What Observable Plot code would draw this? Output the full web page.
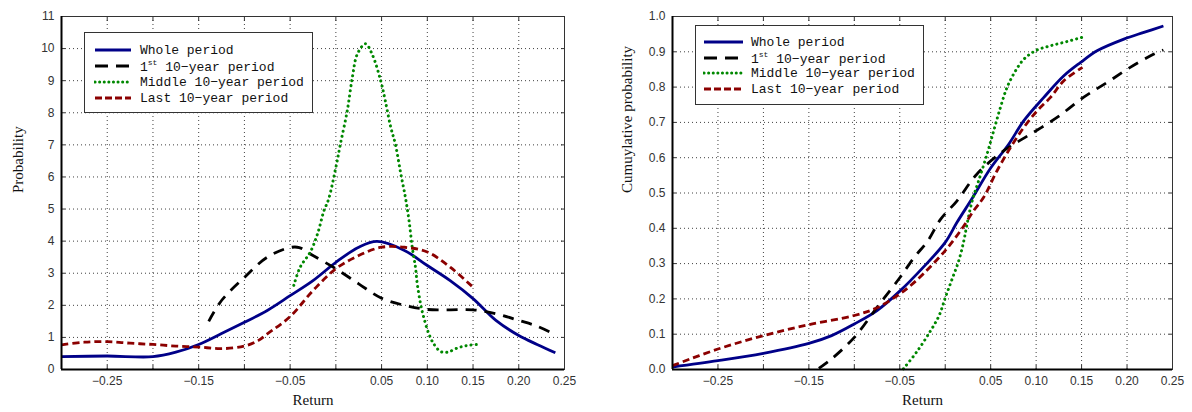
<!DOCTYPE html>
<html><head><meta charset="utf-8">
<script src="https://cdn.jsdelivr.net/npm/d3@7"></script>
<script src="https://cdn.jsdelivr.net/npm/@observablehq/plot@0.6"></script>
<style>
body{margin:0;background:#fff;}
#wrap{position:relative;width:1192px;height:412px;overflow:hidden;background:#fff;}
.panel{position:absolute;top:0;}
.legend{position:absolute;border:1px solid #333;background:#fff;font-family:"Liberation Mono",monospace;font-size:13px;color:#111;box-sizing:border-box;}
.row{position:absolute;height:16px;display:flex;align-items:center;white-space:nowrap;}
.row svg{flex:none;}
.row span{position:absolute;}
sup{font-size:8px;vertical-align:6px;}
</style></head><body><div id="wrap"></div>
<script>
// ---------- data ----------
const xDomain = [-0.30, 0.25];
const xTicks = [-0.30,-0.25,-0.20,-0.15,-0.10,-0.05,0,0.05,0.10,0.15,0.20,0.25];
const xTickLabels = [-0.25,-0.15,-0.05,0.05,0.10,0.15,0.20,0.25];
const pdfYTicks = [0,1,2,3,4,5,6,7,8,9,10,11];
const cdfYTicks = [0,0.1,0.2,0.3,0.4,0.5,0.6,0.7,0.8,0.9,1.0];
const seriesNames = ["Whole period", "1st 10-year period", "Middle 10-year period", "Last 10-year period"];

// Probability density
const pdfWholeX = [-0.30,-0.25,-0.20,-0.175,-0.15,-0.125,-0.10,-0.075,-0.05,-0.025,0,0.025,0.045,0.075,0.10,0.125,0.15,0.175,0.20,0.22,0.24];
const pdfWholeY = [0.40,0.42,0.40,0.54,0.78,1.12,1.47,1.84,2.30,2.77,3.34,3.81,3.99,3.71,3.24,2.77,2.21,1.53,1.06,0.78,0.52];
const pdfFirstX = [-0.139,-0.125,-0.10,-0.075,-0.05,-0.04,-0.025,0,0.025,0.05,0.075,0.10,0.125,0.15,0.175,0.20,0.22,0.24];
const pdfFirstY = [1.50,2.15,2.87,3.50,3.80,3.80,3.55,3.14,2.67,2.22,2.00,1.87,1.86,1.86,1.74,1.53,1.35,1.09];
const pdfMiddleX = [-0.046,-0.039,-0.028,-0.020,-0.013,-0.008,0,0.005,0.0125,0.018,0.0235,0.0324,0.040,0.049,0.054,0.060,0.065,0.071,0.076,0.080,0.0835,0.087,0.089,0.0926,0.096,0.1017,0.107,0.1145,0.122,0.133,0.144,0.155];
const pdfMiddleY = [2.62,3.19,3.66,4.23,4.95,5.30,6.30,7.03,8.07,9.10,9.83,10.15,9.80,9.00,8.38,7.55,7.03,6.10,5.37,4.64,3.81,3.19,2.67,2.05,1.63,1.11,0.80,0.56,0.54,0.67,0.75,0.78];
const pdfLastX = [-0.30,-0.275,-0.25,-0.225,-0.20,-0.175,-0.15,-0.125,-0.10,-0.085,-0.075,-0.05,-0.025,0,0.025,0.05,0.075,0.10,0.125,0.152];
const pdfLastY = [0.77,0.85,0.87,0.82,0.78,0.73,0.70,0.65,0.73,0.90,1.11,1.65,2.46,3.14,3.55,3.81,3.81,3.66,3.19,2.51];

// Cumulative probability
const cdfWholeX = [-0.30,-0.25,-0.20,-0.15,-0.125,-0.10,-0.075,-0.05,-0.024,0,0.013,0.0297,0.0498,0.07,0.0865,0.1085,0.1305,0.149,0.167,0.1965,0.2185,0.24];
const cdfWholeY = [0.007,0.025,0.046,0.074,0.096,0.129,0.167,0.222,0.290,0.360,0.417,0.485,0.570,0.639,0.705,0.771,0.832,0.870,0.903,0.936,0.955,0.973];
const cdfFirstX = [-0.139,-0.125,-0.10,-0.075,-0.05,-0.034,-0.019,-0.005,0.013,0.035,0.0645,0.094,0.123,0.152,0.178,0.2035,0.229,0.24];
const cdfFirstY = [0.003,0.030,0.091,0.176,0.260,0.318,0.365,0.426,0.478,0.554,0.620,0.667,0.714,0.771,0.813,0.856,0.893,0.905];
const cdfMiddleX = [-0.046,-0.0316,-0.017,-0.0067,0.0003,0.0077,0.015,0.0205,0.024,0.0297,0.0368,0.046,0.0533,0.0607,0.068,0.0773,0.0865,0.0993,0.1158,0.134,0.152];
const cdfMiddleY = [0.002,0.049,0.106,0.153,0.205,0.257,0.309,0.365,0.412,0.478,0.535,0.610,0.676,0.742,0.799,0.846,0.879,0.903,0.917,0.929,0.942];
const cdfLastX = [-0.30,-0.25,-0.20,-0.15,-0.10,-0.075,-0.05,-0.038,-0.024,0,0.0168,0.0313,0.0423,0.057,0.0718,0.0865,0.1012,0.1158,0.1305,0.151];
const cdfLastY = [0.011,0.058,0.096,0.127,0.153,0.175,0.214,0.238,0.271,0.337,0.393,0.450,0.488,0.563,0.629,0.686,0.733,0.771,0.818,0.856];

// ---------- styles ----------
const styles = [
  {stroke:"#000088", strokeWidth:2.8, strokeDasharray:null, strokeLinecap:"butt"},
  {stroke:"#000000", strokeWidth:2.8, strokeDasharray:"11,8", strokeLinecap:"butt"},
  {stroke:"#008800", strokeWidth:3, strokeDasharray:"0.1,5", strokeLinecap:"round"},
  {stroke:"#8b0000", strokeWidth:2.8, strokeDasharray:"7,4", strokeLinecap:"butt"}
];

const near = (a,b) => Math.abs(a-b) < 1e-9;
const fmtX = d => xTickLabels.some(v => near(v,d)) ? (d < 0 ? "\u2212" : "") + Math.abs(d).toFixed(2) : "";
const serif = "'Liberation Serif', 'DejaVu Serif', serif";

function panel({width, marginLeft, marginRight, yDomain, yTicks, yFmt, ylabel, ylabelDx, series}) {
  const lineMarks = series.map((s, i) => Plot.line(s.x.map((x, j) => ({x, y: s.y[j]})), {
    x: "x", y: "y", curve: "catmull-rom", ...styles[i]
  }));
  return Plot.plot({
    width, height: 412, marginLeft, marginRight, marginTop: 16, marginBottom: 43,
    style: {fontFamily: "'Liberation Sans', Arial, sans-serif", fontSize: "12px", color: "#333", background: "#fff"},
    x: {domain: xDomain, label: null},
    y: {domain: yDomain, label: null},
    marks: [
      Plot.gridX(xTicks, {stroke: "#000", strokeOpacity: 0.75, strokeDasharray: "1,3"}),
      Plot.gridY(yTicks, {stroke: "#000", strokeOpacity: 0.75, strokeDasharray: "1,3"}),
      ...lineMarks,
      Plot.axisX(xTicks, {anchor: "bottom", tickSize: 0, tickPadding: 7, tickFormat: fmtX, fill: "#333"}),
      Plot.axisX(xTicks, {anchor: "bottom", tickSize: -4, tickFormat: () => ""}),
      Plot.axisX(xTicks, {anchor: "top", tickSize: -4, tickFormat: () => ""}),
      Plot.axisY(yTicks, {anchor: "left", tickSize: 0, tickPadding: 7, tickFormat: yFmt, fill: "#333"}),
      Plot.axisY(yTicks, {anchor: "left", tickSize: -4, tickFormat: () => ""}),
      Plot.axisY(yTicks, {anchor: "right", tickSize: -4, tickFormat: () => ""}),
      Plot.frame({stroke: "#333", strokeWidth: 1}),
      Plot.ruleX([xDomain[0]], {stroke: "#000", strokeWidth: 2}),
      Plot.ruleY([yDomain[0]], {stroke: "#000", strokeWidth: 2}),
      Plot.text(["Return"], {frameAnchor: "bottom", dy: 35, fontFamily: serif, fontSize: 15, fill: "#111", letterSpacing: "2px"}),
      Plot.text([ylabel], {frameAnchor: "left", dx: ylabelDx, rotate: -90, fontFamily: serif, fontSize: 15, fill: "#111", letterSpacing: "0.5px"})
    ]
  });
}

function legend(left, top, width, height, rowOffsets, sampleLeft, sampleWidth) {
  const div = document.createElement("div");
  div.className = "legend";
  Object.assign(div.style, {left: left + "px", top: top + "px", width: width + "px", height: height + "px"});
  seriesNames.forEach((name, i) => {
    const row = document.createElement("div");
    row.className = "row";
    row.style.top = (rowOffsets[i] - 8) + "px";
    row.style.left = sampleLeft + "px";
    const st = styles[i];
    const svg = d3.create("svg").attr("width", sampleWidth).attr("height", 16);
    svg.append("line").attr("x1", 1).attr("x2", sampleWidth).attr("y1", 8).attr("y2", 8)
      .attr("stroke", st.stroke).attr("stroke-width", st.strokeWidth)
      .attr("stroke-dasharray", i === 1 ? "13,8" : i === 2 ? "0.1,4.5" : i === 3 ? "7,3" : null)
      .attr("stroke-linecap", st.strokeLinecap);
    row.appendChild(svg.node());
    const span = document.createElement("span");
    span.style.left = (55 - sampleLeft) + "px";
    span.innerHTML = i === 1 ? "1<sup>st</sup> 10\u2212year period" : name.replace(/-/g, "\u2212");
    row.appendChild(span);
    div.appendChild(row);
  });
  return div;
}

const wrap = document.getElementById("wrap");

const left = document.createElement("div");
left.className = "panel"; left.style.left = "0px";
left.appendChild(panel({
  width: 590, marginLeft: 61, marginRight: 26,
  yDomain: [0, 11], yTicks: pdfYTicks, yFmt: d => String(d),
  ylabel: "Probability", ylabelDx: -43,
  series: [
    {x: pdfWholeX, y: pdfWholeY},
    {x: pdfFirstX, y: pdfFirstY},
    {x: pdfMiddleX, y: pdfMiddleY},
    {x: pdfLastX, y: pdfLastY}
  ]
}));
wrap.appendChild(left);

const right = document.createElement("div");
right.className = "panel"; right.style.left = "590px";
right.appendChild(panel({
  width: 602, marginLeft: 82, marginRight: 20,
  yDomain: [0, 1], yTicks: cdfYTicks, yFmt: d => d.toFixed(1),
  ylabel: "Cumuylative probability", ylabelDx: -45,
  series: [
    {x: cdfWholeX, y: cdfWholeY},
    {x: cdfFirstX, y: cdfFirstY},
    {x: cdfMiddleX, y: cdfMiddleY},
    {x: cdfLastX, y: cdfLastY}
  ]
}));
wrap.appendChild(right);

wrap.appendChild(legend(84, 32, 229, 81, [17, 33, 49, 65], 9, 37));
wrap.appendChild(legend(695, 25, 229, 80, [16, 32, 47, 63], 7, 40));
</script>
</body></html>
